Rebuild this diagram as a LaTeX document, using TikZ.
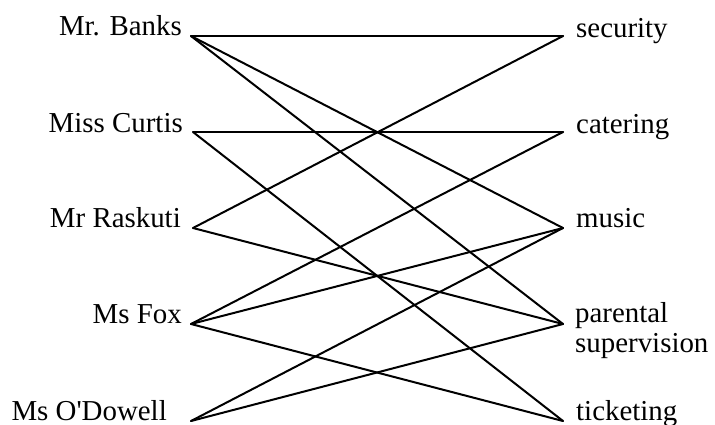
\documentclass[tikz,border=0pt]{standalone}
\usepackage{fontspec}
\setmainfont{Liberation Serif}
\begin{document}
\begin{tikzpicture}[x=1bp,y=-1bp,
  lbl/.style={inner sep=0pt,font=\fontsize{29}{30}\selectfont},
  link/.style={line width=2bp,line cap=round}]
\useasboundingbox[fill=white] (0,0) rectangle (715,424);
% end points
\coordinate (banks) at (191,36);
\coordinate (curtis) at (193,132);
\coordinate (raskuti) at (193,228);
\coordinate (fox) at (191,324);
\coordinate (odowell) at (191,421);
\coordinate (security) at (563,36);
\coordinate (catering) at (563,132);
\coordinate (music) at (563,228);
\coordinate (parental) at (563,324);
\coordinate (ticketing) at (563,421);
% labels
\node[lbl,anchor=base east] (tbanks) at (182,35) {Mr. Banks};
\node[lbl,anchor=base east] (tcurtis) at (183,132) {Miss Curtis};
\node[lbl,anchor=base east] (traskuti) at (181,227) {Mr Raskuti};
\node[lbl,anchor=base east] (tfox) at (182,323) {Ms Fox};
\node[lbl,anchor=base east] (todowell) at (167,420) {Ms O\textquotesingle Dowell};
\node[lbl,anchor=base west] (tsecurity) at (576,37) {security};
\node[lbl,anchor=base west] (tcatering) at (576,133) {catering};
\node[lbl,anchor=base west] (tmusic) at (576,227) {music};
\node[lbl,anchor=base west] (tparental) at (575,322) {parental};
\node[lbl,anchor=base west] (tsupervision) at (575,352) {supervision};
\node[lbl,anchor=base west] (tticketing) at (576,420) {ticketing};
% links
\draw[link] (banks) -- (security);
\draw[link] (banks) -- (music);
\draw[link] (banks) -- (parental);
\draw[link] (curtis) -- (catering);
\draw[link] (curtis) -- (ticketing);
\draw[link] (raskuti) -- (security);
\draw[link] (raskuti) -- (parental);
\draw[link] (fox) -- (catering);
\draw[link] (fox) -- (music);
\draw[link] (fox) -- (ticketing);
\draw[link] (odowell) -- (music);
\draw[link] (odowell) -- (parental);
\end{tikzpicture}
\end{document}
